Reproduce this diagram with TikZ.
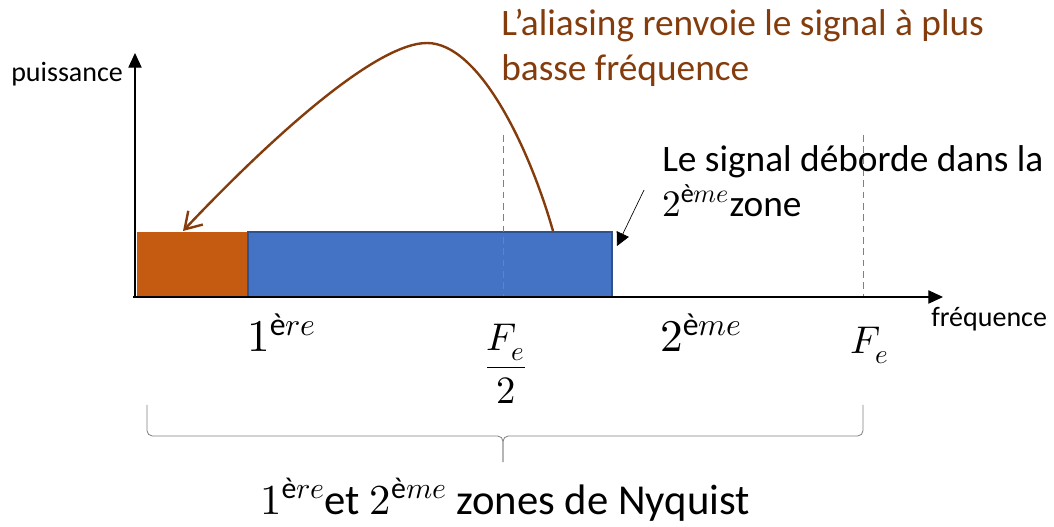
\documentclass[tikz,border=0pt]{standalone}
\usepackage{amsmath}
\usepackage{fontspec}
\usepackage{unicode-math}
\setmainfont{Carlito}
\usetikzlibrary{positioning,calc}
\usetikzlibrary{arrows.meta}
\definecolor{AliasOrange}{RGB}{197,90,17}
\definecolor{SigBlue}{RGB}{68,114,196}
\definecolor{SigBorder}{RGB}{47,82,143}
\definecolor{AliasBrown}{RGB}{132,60,12}
\tikzset{
  axisline/.style={draw=black,line width=0.8pt,-{Triangle[length=11pt,width=10pt]}},
  fsline/.style={draw=gray,line width=0.7pt,dash pattern=on 5pt off 3.5pt},
  aliasband/.style={fill=AliasOrange},
  sigband/.style={fill=SigBlue,draw=SigBorder,line width=1pt},
  foldarrow/.style={draw=AliasBrown,line width=1.8pt,-{Straight Barb[length=12pt,width=15pt]}},
  ptr/.style={draw=black,line width=0.5pt,-{Triangle[length=10pt,width=10pt]}},
  bracel/.style={draw=gray,line width=0.6pt,rounded corners=4pt},
}
\tikzset{axlab/.style={font=\fontsize{21}{25}\selectfont,inner sep=0pt}, zonelab/.style={font=\fontsize{34}{40}\selectfont,inner sep=0pt},flab/.style={font=\fontsize{29}{34}\selectfont,inner sep=0pt},note/.style={font=\fontsize{28}{34}\selectfont,align=left,inner sep=0pt}}

\begin{document}
\begin{tikzpicture}[x=0.75pt,y=-0.75pt]
\useasboundingbox (0,0) rectangle (1054,527);
\coordinate (o) at (135,297);
\coordinate (ytop) at (135,53);
\coordinate (xend) at (943,297);
\coordinate (fs2) at (503,135);
\coordinate (fs2b) at (503,297);
\coordinate (fs) at (863,135);
\coordinate (fsb) at (863,297);
% bandes du spectre
\fill[aliasband] (137,232) rectangle (248,297);
\draw[sigband] (248,232) rectangle (612,297);
\draw[fsline] (fs2) -- (fs2b);
\draw[fsline] (fs) -- (fsb);
\draw[axisline] (135,298) -- (ytop);
\draw[axisline] (133,297) -- (xend);
\node[axlab,anchor=base west] (ylab) at (11,82) {puissance};
\node[axlab,anchor=base west] (xlab) at (931,327) {fréquence};
\node[zonelab,anchor=base west] (z1) at (247,352) {$1^{\text{è}re}$};
\node[zonelab,anchor=base west] (z2) at (660,352) {$2^{\text{è}me}$};
\node[flab] (fe2) at (506,364) {$\dfrac{F_e}{2}$};
\node[flab,anchor=base west] (fe) at (850,354) {$F_e$};
% repliement
\coordinate (src) at (553,231);
\coordinate (peak) at (427,43);
\coordinate (dst) at (183,231);
\draw[foldarrow] (src) .. controls (530,150) and (480,43) .. (peak)
  .. controls (370,43) and (250,160) .. (dst);
\node[note,anchor=north west,text=AliasBrown] (alias) at (501,9)
  {L’aliasing renvoie le signal à plus\\basse fréquence};
\node[note,anchor=north west] (over) at (662,145) {Le signal déborde dans la\\$2^{\text{è}me}$zone};
\coordinate (ptrs) at (644,190);
\coordinate (ptrt) at (617,246);
\draw[ptr] (ptrs) -- (ptrt);
% accolade
\coordinate (brL) at (147,405);
\coordinate (brR) at (863,405);
\coordinate (brM) at (503,436);
\coordinate (brT) at (503,462);
\draw[bracel] (brL) -- (brL |- brM) -- (brM) -- (brT);
\draw[bracel] (brR) -- (brR |- brM) -- (brM) -- (brT);
\node[inner sep=0pt,anchor=base,font=\fontsize{32}{38}\selectfont] (nyq) at (505,514)
  {$1^{\text{è}re}$et $2^{\text{è}me}$ zones de Nyquist};
\end{tikzpicture}
\end{document}
